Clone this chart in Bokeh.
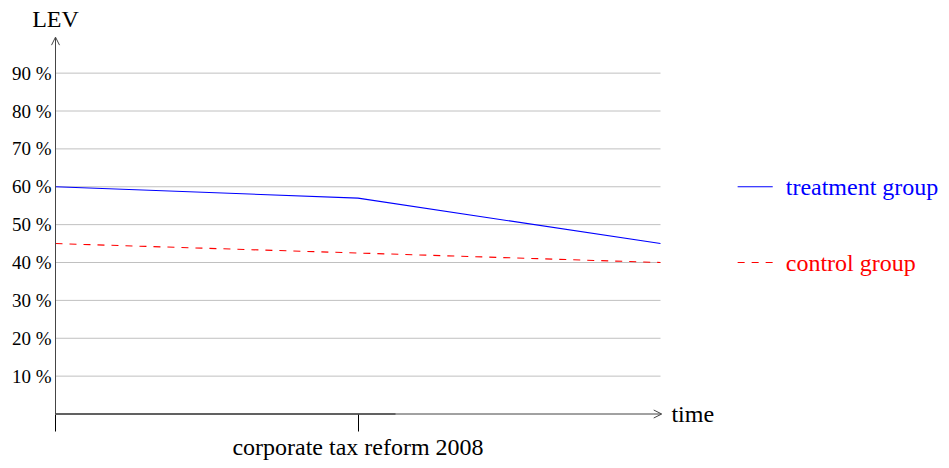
from bokeh.plotting import figure
from bokeh.models import FixedTicker, Arrow, OpenHead, Range1d, LinearAxis
from bokeh.core.properties import value
from bokeh.embed import file_html
from bokeh.resources import INLINE

# ---- data ----
TIME = [0, 1, 2]
TREATMENT = [60, 57, 45]
CONTROL = [45, 42.5, 40]
Y_TICKS = [10, 20, 30, 40, 50, 60, 70, 80, 90]
X_TICKS = [0, 1]
X_TICK_LABELS = ["", "corporate tax reform 2008"]
SERIES_NAMES = ["treatment group", "control group"]
LEGEND_LEVELS = [60, 40]
Y_LABEL = "LEV"
X_LABEL = "time"

FONT = "Liberation Serif, serif"
BLUE = "#0000ff"
RED = "#ff0000"
AXIS = "#454545"

X_END = max(TIME)
Y_ARROW = 99.5

W, H = 940, 460
LEFT = 55
PX_X = 302.5
PX_Y = 3.7875
Y0_PIX = 413.5

p = figure(width=W, height=H, output_backend="svg", toolbar_location=None,
           x_range=Range1d(-LEFT / PX_X, (W - LEFT) / PX_X),
           y_range=Range1d(-(H - Y0_PIX) / PX_Y, Y0_PIX / PX_Y),
           min_border_left=0, min_border_right=0, min_border_top=0, min_border_bottom=0,
           x_axis_location=None, y_axis_location=None)
p.outline_line_color = None
p.grid.visible = False

# y axis labels, placed at x = 0
yaxis = LinearAxis(fixed_location=0, ticker=FixedTicker(ticks=Y_TICKS),
                   major_label_overrides={t: f"{t} %" for t in Y_TICKS},
                   axis_line_color=None, major_tick_line_color=None, minor_tick_line_color=None,
                   major_label_text_font=FONT, major_label_text_font_size="19px",
                   major_label_text_color="black", major_label_standoff=-2)
p.add_layout(yaxis, "left")

# x axis (ticks + label) at y = 0
xaxis = LinearAxis(fixed_location=0, ticker=FixedTicker(ticks=X_TICKS),
                   major_label_overrides={t: l for t, l in zip(X_TICKS, X_TICK_LABELS)},
                   axis_line_color=None, major_tick_out=17, major_tick_in=0,
                   major_tick_line_color="black", minor_tick_line_color=None,
                   major_label_text_font=FONT, major_label_text_font_size="24px",
                   major_label_text_color="black", major_label_standoff=3)
p.add_layout(xaxis, "below")

# grid lines (only across the data span)
p.segment(x0=[0] * len(Y_TICKS), x1=[X_END] * len(Y_TICKS), y0=Y_TICKS, y1=Y_TICKS,
          line_color="#c0c0c0", line_width=1)

# axis lines with arrows
p.add_layout(Arrow(end=OpenHead(size=8, line_color=AXIS, line_width=1),
                   x_start=0, y_start=0, x_end=X_END + 0.004, y_end=0,
                   line_color=AXIS, line_width=1))
p.segment(x0=[0], x1=[1.124], y0=[0], y1=[0], line_color="black", line_width=1.2)
p.add_layout(Arrow(end=OpenHead(size=8, line_color=AXIS, line_width=1),
                   x_start=0, y_start=0, x_end=0, y_end=Y_ARROW,
                   line_color=AXIS, line_width=1))

# series
p.line(TIME, TREATMENT, line_color=BLUE, line_width=1.1)
p.line(TIME, CONTROL, line_color=RED, line_width=1.1, line_dash="7 7")

# axis titles
p.text(x=[0], y=[104.4], text=[Y_LABEL], text_font=value(FONT), text_font_size="24px",
       text_align="center", text_baseline="middle", text_color="black")
p.text(x=[X_END + 0.036], y=[0], text=[X_LABEL], text_font=value(FONT), text_font_size="24px",
       text_align="left", text_baseline="middle", text_color="black")

# legend
p.segment(x0=[2.255], x1=[2.371], y0=[LEGEND_LEVELS[0]], y1=[LEGEND_LEVELS[0]],
          line_color=BLUE, line_width=1.1)
p.segment(x0=[2.255], x1=[2.371], y0=[LEGEND_LEVELS[1]], y1=[LEGEND_LEVELS[1]],
          line_color=RED, line_width=1.1, line_dash="7 7")
p.text(x=[2.414, 2.414], y=LEGEND_LEVELS, text=SERIES_NAMES, text_font=value(FONT),
       text_font_size="24px", text_align="left", text_baseline="middle",
       text_color=[BLUE, RED])

open("out.html", "w").write(file_html(p, INLINE))
